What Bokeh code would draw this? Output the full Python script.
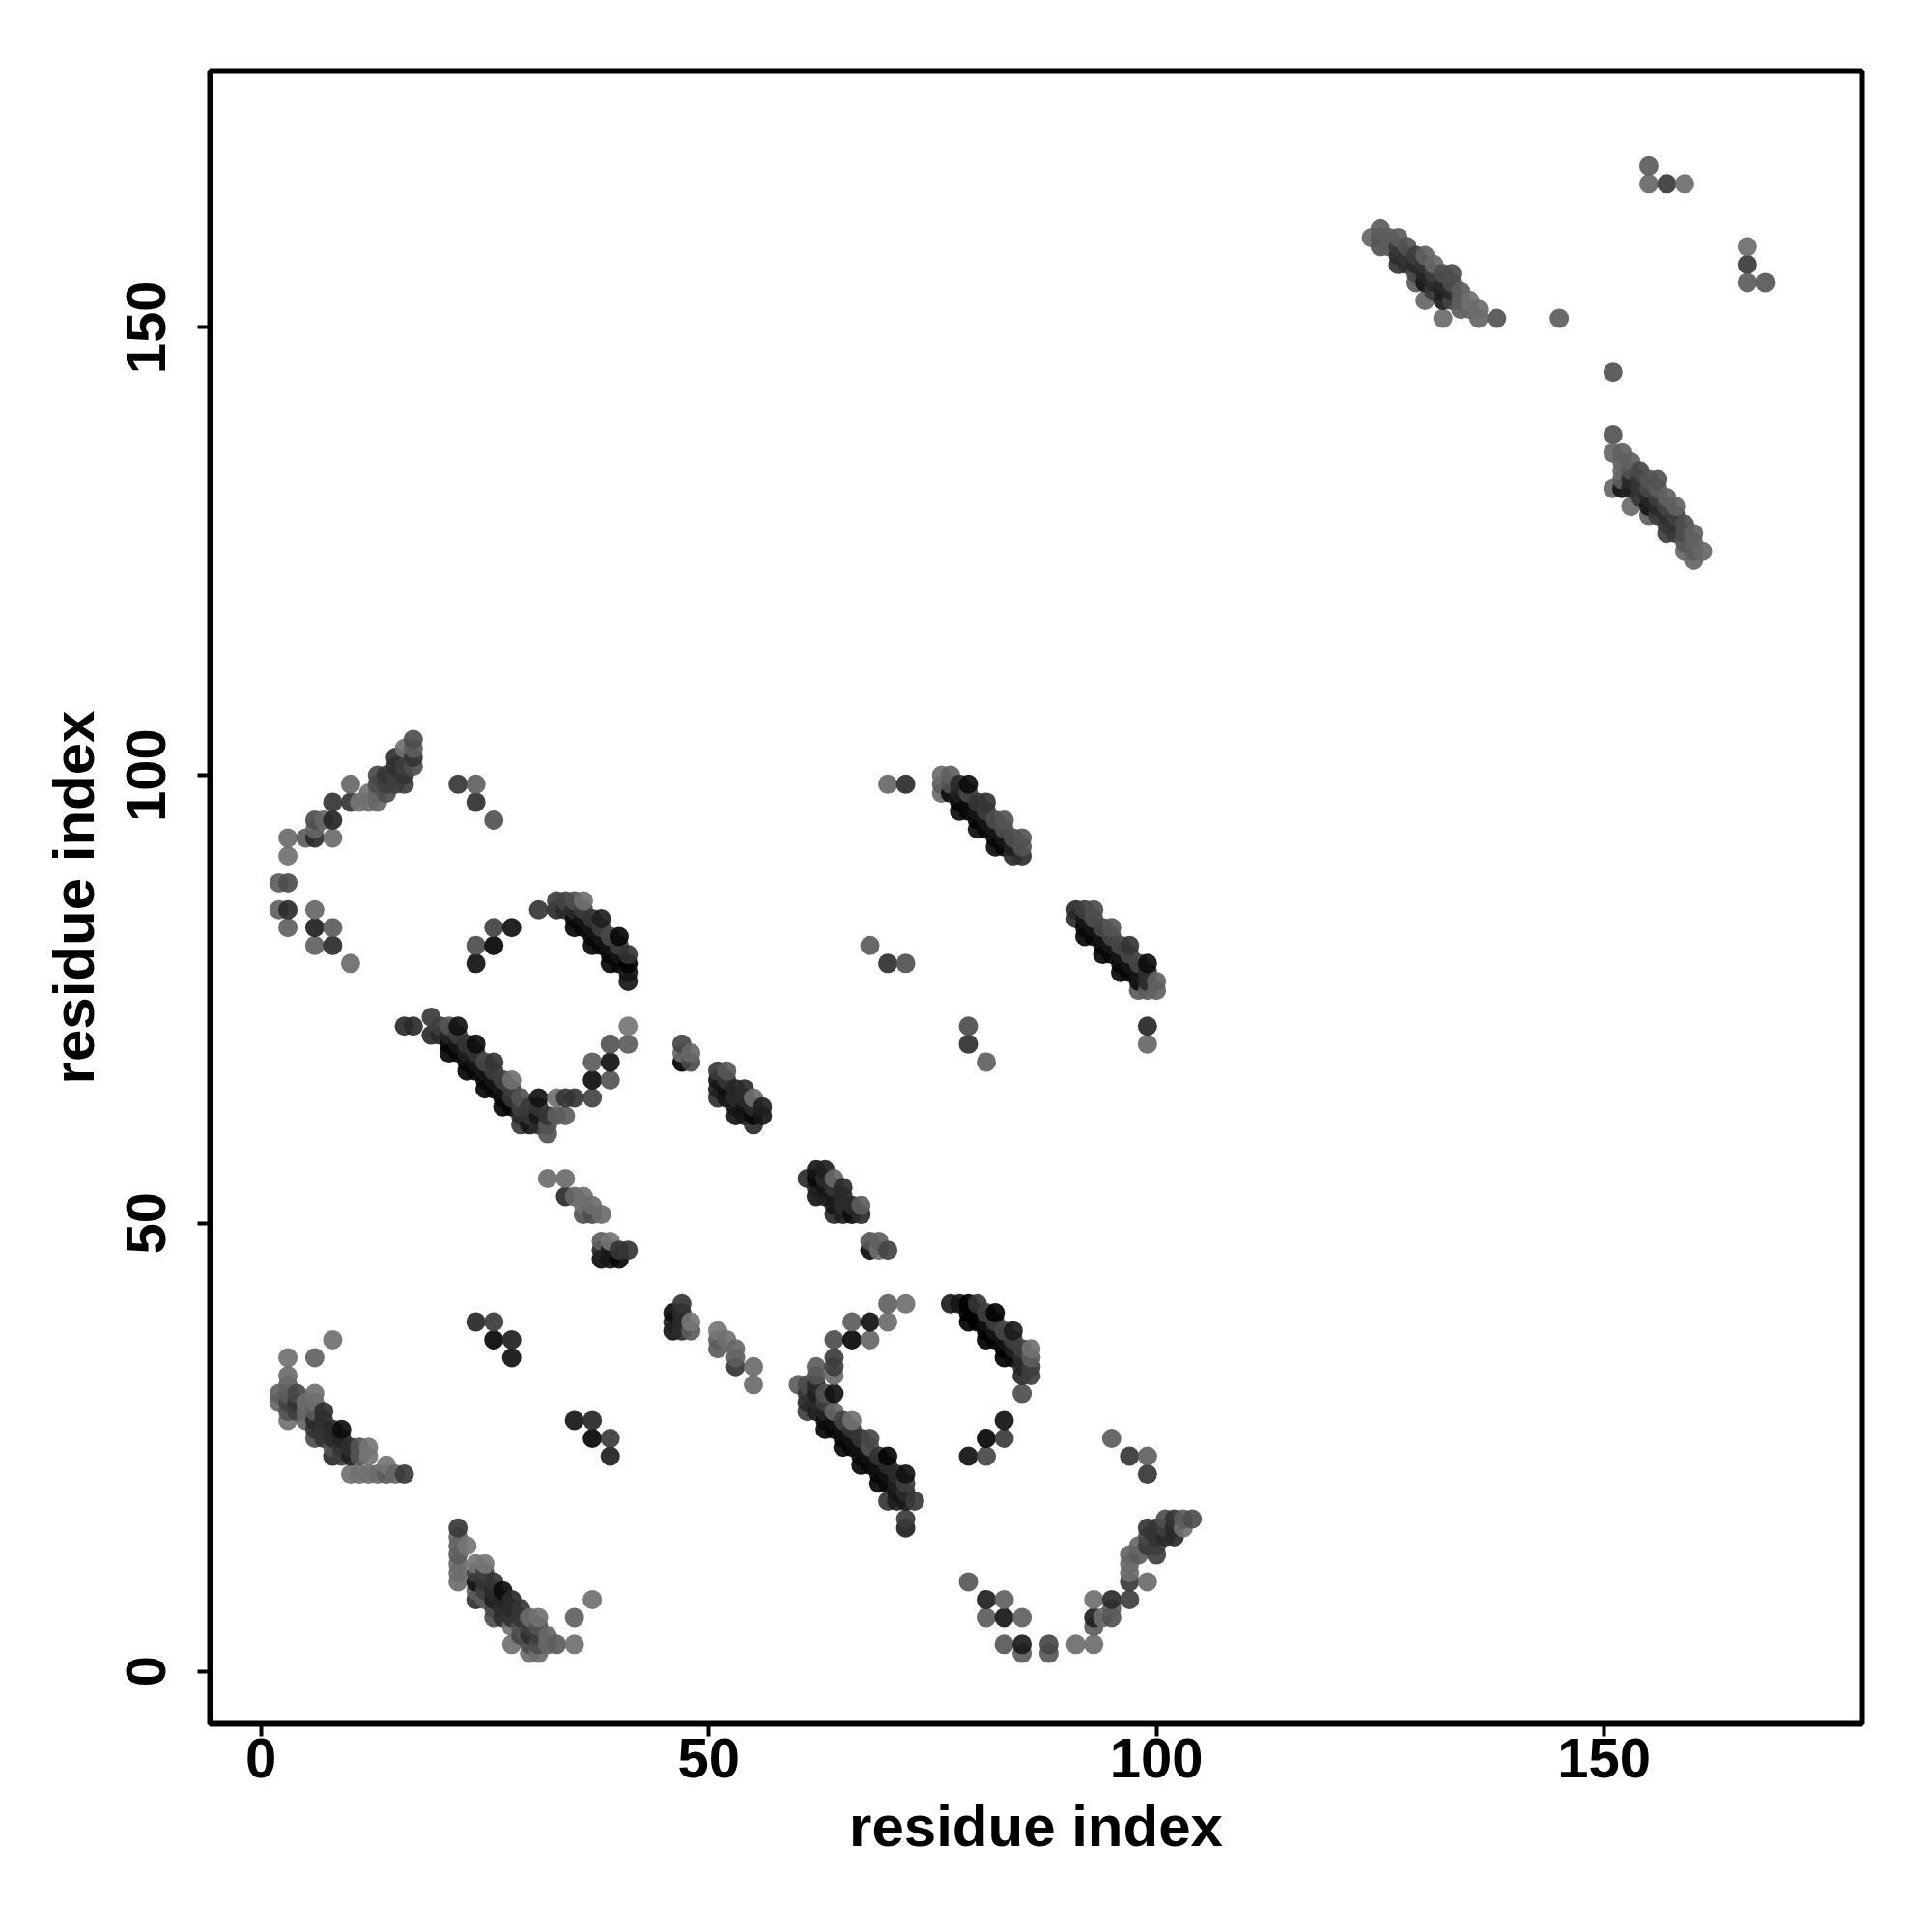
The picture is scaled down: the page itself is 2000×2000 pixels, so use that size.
from bokeh.plotting import figure
from bokeh.models import ColumnDataSource, FixedTicker
from bokeh.embed import file_html
from bokeh.resources import INLINE

# (residue i, residue j, observed grey level)
cl_a = [(8,37,120),(3,35,120),(6,35,105),(3,33,115),(3,32,105),(2,31,105),(3,31,100),(4,31,80),(6,31,120),
        (2,30,110),(3,30,75),(4,30,60),(5,30,115),(6,30,115),(3,29,90),(4,29,70),(5,29,110),(6,29,100),(7,29,55),
        (3,28,120),(5,28,110),(6,28,50),(7,28,55),(6,27,60),(7,27,60),(8,27,50),(9,27,20),
        (6,26,85),(7,26,60),(8,26,50),(9,26,45),(8,25,90),(9,25,60),(10,25,55),(11,25,90),(12,25,125),
        (8,24,50),(9,24,70),(10,24,40),(11,24,90),(12,24,125),(14,23,125),
        (10,22,120),(11,22,120),(12,22,120),(13,22,115),(14,22,100),(15,22,110),(16,22,65)]
cl_b = [(22,16,65),(22,15,110),(22,14,105),(23,14,125),(22,13,100),(22,12,115),(22,11,115),(22,10,115),
        (24,12,125),(25,12,125),(24,11,70),(25,11,70),(24,10,25),(25,10,60),(26,10,60),(24,9,100),(25,9,70),(26,9,50),(27,9,20),
        (24,8,55),(25,8,100),(26,8,40),(27,8,45),(28,8,50),(26,7,80),(27,7,55),(28,7,50),(29,7,60),
        (26,6,85),(27,6,55),(28,6,55),(29,6,60),(30,6,115),(31,6,120),(28,5,120),(29,5,90),(30,5,70),(31,5,90),
        (29,4,80),(30,4,55),(31,4,70),(32,4,110),(28,3,120),(30,3,85),(31,3,85),(32,3,110),(33,3,100),(35,3,120),
        (30,2,115),(31,2,115),(35,6,105),(37,8,120)]
cl_c = [(24,39,55),(26,39,75),(26,37,25),(28,37,50),(28,35,35),(35,28,40),(37,28,55),(37,26,25),(39,26,75),(39,24,50)]
band_1 = [(16,72,50),(17,72,50),(19,73,65),(19,71,50),
          (22,72,25),(24,70,20),(26,68,60),(28,66,120),
          (21,72,90),(22,71,70),(23,70,60),(24,69,60),(25,68,80),(26,67,70),(27,66,70),(28,65,70),(29,64,90),
          (20,72,70),(21,71,45),(22,70,30),(23,69,40),(24,68,30),(25,67,30),(26,66,30),(27,65,30),(28,64,60),(29,63,70),
          (20,71,50),(21,70,15),(22,69,15),(23,68,15),(24,67,15),(25,66,15),(26,65,15),(27,64,15),(28,63,15),(29,62,50),
          (21,69,15),(23,67,15),(25,65,15),(27,63,15),(29,61,65),
          (31,64,25),(33,64,120),(34,64,60),(35,64,60),(37,64,75),(32,62,60),(33,62,100),(34,62,100),
          (32,60,90),(32,61,90),(31,62,30),(30,63,65),(30,62,60),(30,61,30),(31,61,50),(31,63,60),
          (37,66,20),(39,66,90),(37,68,100),(39,68,25),(39,70,90),(41,70,100),(41,72,125)]
cl_d = [(32,55,115),(34,55,115),(34,53,50),(35,53,110),(36,53,120),(36,52,120),(37,52,115),(36,51,90),(37,51,85),(38,51,115),
        (38,48,100),(39,48,125),(38,47,45),(39,47,35),(40,47,60),(41,47,60),(38,46,20),(39,46,30),(40,46,15)]
cl_e = [(47,70,85),(47,69,120),(48,69,115),(47,68,20),(48,68,90)]
cl_f = [(51,67,65),(52,67,95),(51,66,30),(52,66,60),(51,65,40),(51,64,55),(52,65,25),(52,64,30),(53,65,45),(54,65,50),
        (53,64,50),(54,64,50),(53,63,30),(53,62,30),(54,63,30),(54,62,30),(55,64,115),(55,63,50),(55,62,15),(55,61,50),(56,63,40),(56,62,30)]
cl_g = [(61,55,50),(62,56,30),(63,56,40),(64,55,110),(63,55,50),(62,55,15),(62,54,40),(62,53,30),(63,54,30),(63,53,40),
        (64,54,60),(65,54,50),(64,53,35),(65,53,50),(64,52,30),(65,52,50),(66,52,50),(67,52,100),(64,51,50),(65,51,40),(66,51,20),(67,51,50),
        (68,48,95),(69,48,105),(68,47,20),(69,47,120),(70,47,75)]
cl_h = [(47,41,60),(46,40,20),(47,40,50),(46,39,40),(47,39,50),(48,39,125),(46,38,30),(47,38,50),(48,38,100),
        (51,38,125),(51,37,100),(52,37,120),(51,36,100),(53,36,110),(53,35,100),(53,34,60),(55,34,115),(55,32,115)]
band_2 = [(60,32,100),(61,32,85),(62,34,100),(62,33,90),(62,32,50),(61,31,60),(62,31,40),(63,31,90),(61,30,50),(62,30,50),(63,30,70),(61,29,70),
          (64,35,70),(64,34,70),(64,33,115),(64,31,25),(64,37,85),(66,37,15),(68,37,110),(66,39,100),(68,39,25),(70,39,115),(70,41,105),(72,41,120),
          (66,28,120),(68,26,80),(70,24,15),(72,22,25),
          (64,29,110),(65,28,75),(66,27,60),(67,26,60),(68,25,90),(69,24,60),(70,23,50),(71,22,50),(72,21,70),
          (63,29,45),(64,28,25),(65,27,25),(66,26,25),(67,25,25),(68,24,25),(69,23,25),(70,22,25),(71,21,40),(72,20,50),
          (62,29,40),(63,28,20),(64,27,15),(65,26,15),(66,25,15),(67,24,15),(68,23,15),(69,22,15),(70,21,15),(71,20,30),(72,19,30),
          (63,27,15),(65,25,15),(67,23,15),(69,21,15),(71,19,40),(70,19,60),(73,19,65),(72,17,65),(72,16,40)]
band_3 = [(77,41,35),(78,41,30),(79,41,5),(80,41,60),(82,40,10),(84,38,35),(86,36,120),
          (81,40,70),(82,39,70),(83,38,80),(84,37,70),(85,36,70),(86,35,100),
          (80,40,10),(81,39,25),(82,38,30),(83,37,30),(84,36,40),(85,35,50),(86,34,70),
          (79,40,5),(80,39,5),(81,38,5),(82,37,5),(83,36,5),(84,35,15),(85,34,45),(86,33,70),
          (79,39,5),(81,37,5),(83,35,5),(85,33,50),(85,31,85)]
cl_i = [(83,28,35),(81,26,25),(83,26,75),(79,24,35),(81,24,85),(79,10,100),(81,8,50),(83,8,110),(81,6,105),(83,6,40),(85,6,110),
        (83,3,100),(85,3,45),(85,2,105),(88,3,85),(88,2,100),(91,3,120),(93,3,120),(95,26,105),(97,24,70),(99,24,110),(99,22,70)]
cl_j = [(93,8,120),(95,8,50),(97,8,70),(93,6,40),(95,7,100),(95,6,90),(94,6,115),(93,5,100),(97,10,65),(97,11,120),(99,10,115),
        (97,12,115),(97,13,110),(98,13,100),(98,14,110),(100,13,70),(99,14,65),(100,14,70),(99,16,60),(100,16,60),(101,17,85),(102,17,60),
        (103,17,100),(104,17,85),(103,16,120),(102,15,50),(101,15,50),(101,16,70),(102,16,50),(99,15,80),(100,15,60)]
cl_k = [(17,104,85),(17,103,100),(16,103,120),(17,102,60),(15,102,55),(17,101,85),(16,101,70),(15,101,55),
        (13,100,80),(14,100,60),(15,100,70),(16,100,60),(13,99,85),(14,99,70),(15,99,70),(16,99,70),(12,98,120),(13,98,110),(14,98,85),
        (11,97,125),(12,97,120),(13,97,110),(10,97,60),(8,97,60),(10,99,110),(8,95,45),(7,95,110),(6,95,85),(6,94,110),(6,93,50),(5,93,100),(8,93,115),
        (3,93,115),(3,91,120),(2,88,100),(3,88,85),(2,85,105),(3,85,50),(6,85,110),(3,83,105),(6,83,40),(8,83,100),(6,81,105),(8,81,50),(10,79,115)]
cl_l = [(22,99,70),(24,99,110),(24,97,65),(26,95,95),(31,85,70),(26,83,80),(28,83,35),(24,81,90),(26,81,25),(24,79,35)]
band_4 = [(36,86,120),(38,84,40),(40,82,15),
          (35,86,85),(36,85,70),(37,84,60),(38,83,70),(39,82,80),(40,81,70),(41,80,60),
          (34,86,75),(35,85,50),(36,84,30),(37,83,30),(38,82,30),(39,81,30),(40,80,30),(41,79,10),
          (33,86,70),(34,85,50),(35,84,15),(36,83,15),(37,82,15),(38,81,15),(39,80,15),(40,79,15),(41,78,30),
          (33,85,50),(35,83,15),(37,81,15),(39,79,15),(41,77,30)]
cl_m = [(70,99,115),(72,99,60),(68,81,105),(70,79,65),(72,79,95),(79,72,90),(79,70,65),(81,68,110),(99,72,55),(99,70,115)]
band_5 = [(76,100,115),(77,100,105),(79,99,20),(81,97,60),(83,95,90),(85,93,90),
          (78,99,50),(79,98,80),(80,97,60),(81,96,70),(82,95,85),(83,94,85),(84,93,85),(85,92,90),
          (77,99,90),(78,98,40),(79,97,20),(80,96,30),(81,95,30),(82,94,30),(83,93,30),(84,92,40),(85,91,55),
          (76,99,100),(77,98,20),(78,97,15),(79,96,15),(80,95,15),(81,94,15),(82,93,15),(83,92,15),(84,91,50),
          (76,98,115),(78,96,20),(80,94,20),(82,92,20)]
band_6 = [(93,85,85),(95,83,90),(97,81,60),(99,79,20),
          (92,85,70),(93,84,85),(94,83,80),(95,82,80),(96,81,80),(97,80,80),(98,79,80),(99,78,55),(100,77,105),
          (91,85,50),(92,84,30),(93,83,30),(94,82,30),(95,81,30),(96,80,30),(97,79,30),(98,78,30),(99,77,50),(100,76,105),
          (91,84,50),(92,83,15),(93,82,15),(94,81,15),(95,80,15),(96,79,15),(97,78,15),(98,77,20),(99,76,100),
          (92,82,15),(94,80,15),(96,78,15),(98,76,100)]
band_7 = [(125,161,100),(124,160,110),(125,160,95),(125,159,90),(126,160,100),(127,160,100),(126,159,100),(128,159,90),(127,159,65),
          (127,158,50),(127,157,60),(128,158,60),(128,157,55),(129,158,70),(130,158,105),(131,157,110),(129,157,50),(130,157,60),
          (129,156,80),(130,156,45),(131,156,70),(133,156,85),(132,156,85),(129,155,100),(130,155,30),(131,155,50),(132,155,50),(133,155,85),
          (130,153,110),(132,154,40),(133,154,50),(134,154,100),(131,154,65),(132,153,35),(133,153,75),(134,153,100),(135,153,120),
          (136,152,115),(134,152,100),(135,152,110),(132,151,115),(136,151,110),(138,151,90),(145,151,100)]
cl_n = [(166,159,120),(166,157,75),(166,155,105),(168,155,100),(155,168,105),(155,166,115),(157,166,75),(159,166,120),(151,145,95)]
band_8 = [(151,138,90),(151,136,110),(152,136,105),(152,135,110),(153,135,105),(152,134,110),(153,134,90),(154,134,80),
          (152,133,100),(153,133,50),(154,133,60),(155,133,90),(156,133,90),(151,132,110),(152,132,30),(153,132,40),(154,132,60),(155,132,80),(156,132,100),
          (157,131,105),(153,130,115),(154,131,60),(155,131,45),(156,131,70),(158,130,105),(155,130,30),(156,130,50),(157,130,75),
          (155,129,105),(156,129,65),(157,129,55),(158,129,70),(159,128,85),(157,128,65),(158,128,60),(157,127,70),(158,127,65),(159,127,85),(160,127,105),
          (159,126,95),(160,126,105),(159,125,110),(160,125,100),(161,125,110),(160,124,110)]
tick_values = [0, 50, 100, 150]
axis_title = "residue index"

ALPHA = 0.92
def solid(obs):      # grey whose composite over white equals the reading
    return max(0, round((obs - 255 * (1 - ALPHA)) / ALPHA))
def packed(obs):     # readings taken where marks overlap
    return max(0, obs - 8)

isolated = cl_c + cl_e + cl_i + cl_l + cl_m + cl_n
dense = cl_a + cl_b + band_1 + cl_d + cl_f + cl_g + cl_h + band_2 + band_3 + cl_j + cl_k + band_4 + band_5 + band_6 + band_7 + band_8
rows = [(i, j, solid(o)) for i, j, o in isolated] + [(i, j, packed(o)) for i, j, o in dense]
rows.sort(key=lambda t: (t[0], t[1]))
src = ColumnDataSource(dict(x=[t[0] for t in rows], y=[t[1] for t in rows],
                            c=[f"#{t[2]:02x}{t[2]:02x}{t[2]:02x}" for t in rows]))

W, H = 1984, 1984
p = figure(width=W, height=H, output_backend="svg", toolbar_location=None,
           x_range=(-5.69, 178.8), y_range=(-5.86, 178.6),
           min_border_left=217, min_border_right=57, min_border_top=73, min_border_bottom=200,
           background_fill_color="white", border_fill_color="white")
p.scatter("x", "y", source=src, size=20, fill_color="c", fill_alpha=ALPHA, line_color=None)
p.grid.visible = False
p.outline_line_color = "black"
p.outline_line_width = 6
for ax in (p.xaxis[0], p.yaxis[0]):
    ax.ticker = FixedTicker(ticks=tick_values)
    ax.minor_tick_line_color = None
    ax.axis_line_color = None
    ax.major_tick_line_color = "black"
    ax.major_tick_line_width = 4
    ax.major_tick_out = 13
    ax.major_tick_in = 0
    ax.major_label_text_font = "Liberation Sans"
    ax.major_label_text_font_style = "bold"
    ax.major_label_text_font_size = "58px"
    ax.major_label_text_color = "black"
    ax.axis_label = axis_title
    ax.axis_label_text_font = "Liberation Sans"
    ax.axis_label_text_font_style = "bold"
    ax.axis_label_text_font_size = "60px"
    ax.axis_label_text_color = "black"
p.yaxis[0].major_label_orientation = "vertical"
p.xaxis[0].major_label_standoff = 2
p.yaxis[0].major_label_standoff = 33
p.xaxis[0].axis_label_standoff = 14
p.yaxis[0].axis_label_standoff = 19

open("out.html", "w").write(file_html(p, INLINE))
